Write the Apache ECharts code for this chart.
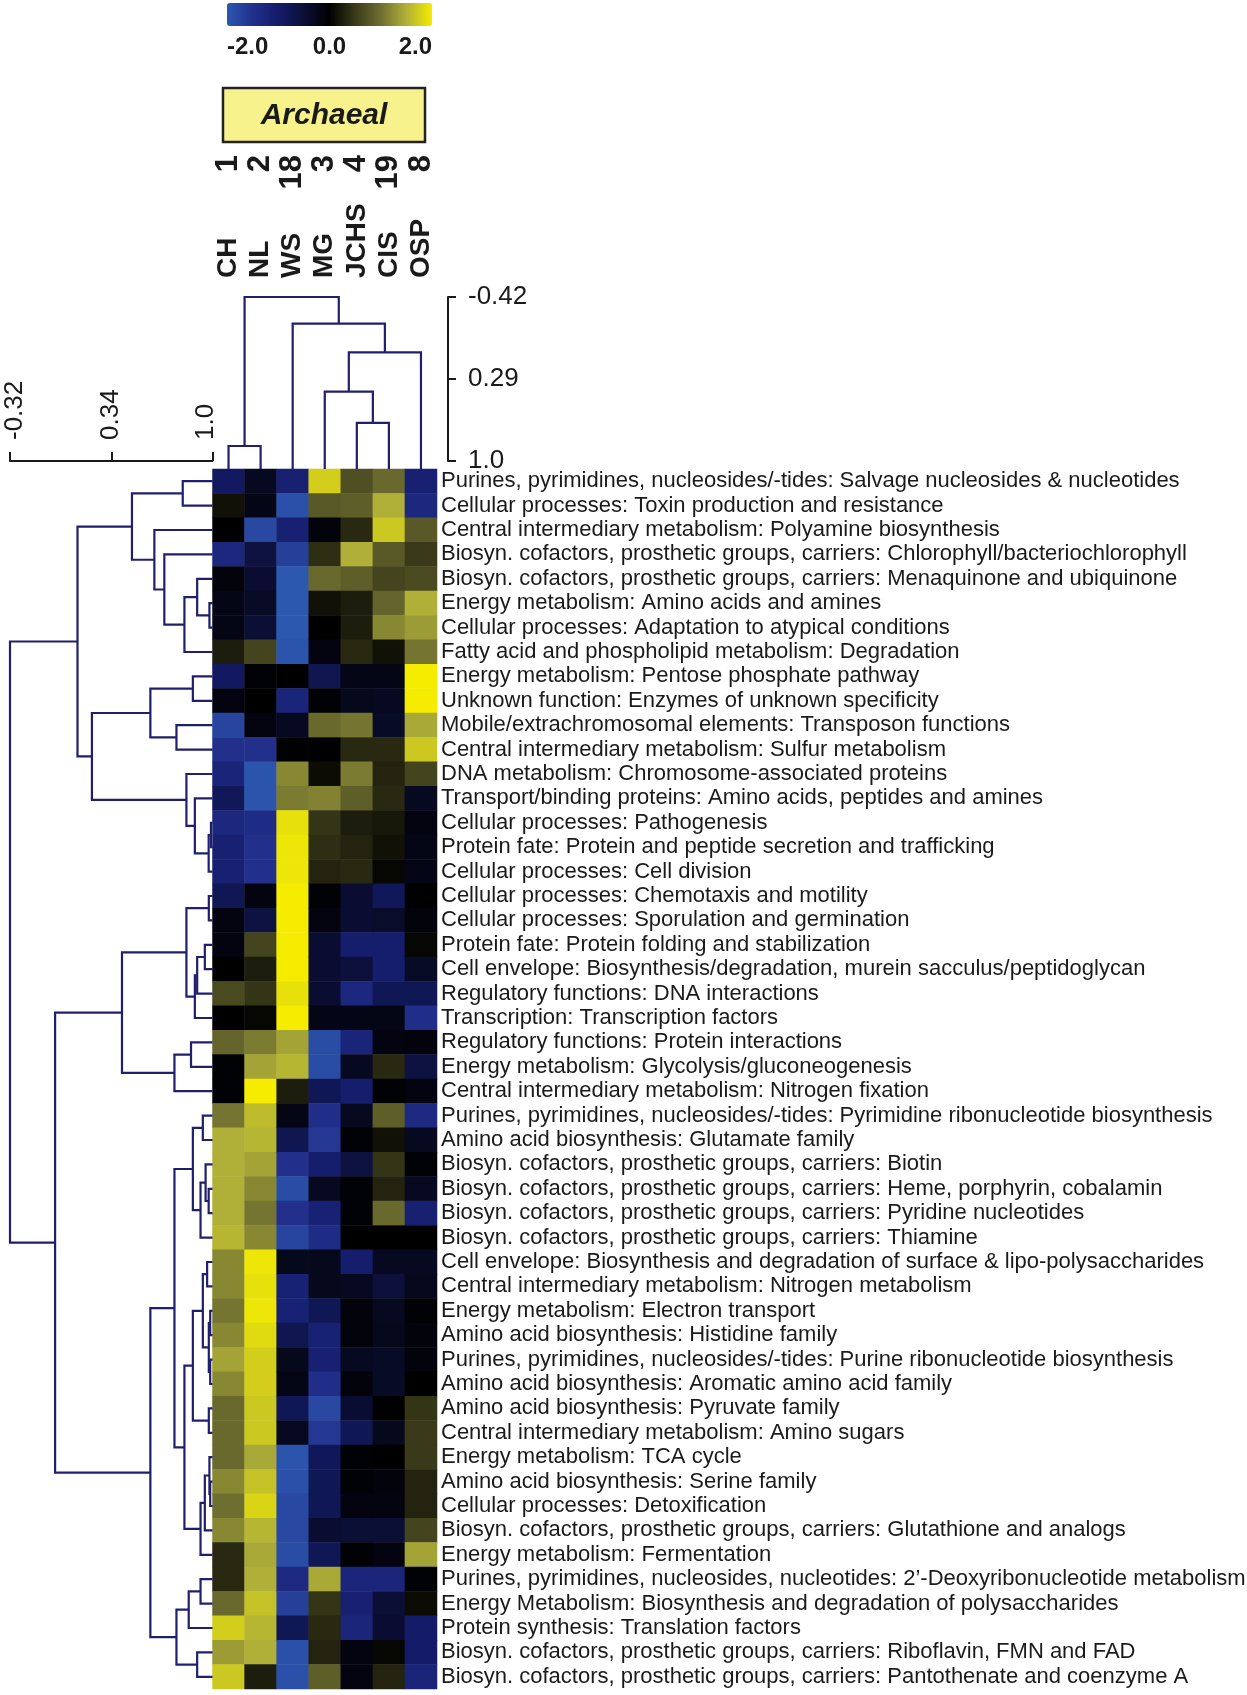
<!DOCTYPE html>
<html><head><meta charset="utf-8">
<script src="https://cdn.jsdelivr.net/npm/echarts@6/dist/echarts.min.js"></script>
<style>html,body{margin:0;padding:0;background:#fff;}#chart{width:1247px;height:1695px;}</style>
</head><body><div id="chart"></div>
<script>
// ---------------- DATA ----------------
const rowLabels = [
 'Purines, pyrimidines, nucleosides/-tides: Salvage nucleosides & nucleotides',
 'Cellular processes: Toxin production and resistance',
 'Central intermediary metabolism: Polyamine biosynthesis',
 'Biosyn. cofactors, prosthetic groups, carriers: Chlorophyll/bacteriochlorophyll',
 'Biosyn. cofactors, prosthetic groups, carriers: Menaquinone and ubiquinone',
 'Energy metabolism: Amino acids and amines',
 'Cellular processes: Adaptation to atypical conditions',
 'Fatty acid and phospholipid metabolism: Degradation',
 'Energy metabolism: Pentose phosphate pathway',
 'Unknown function: Enzymes of unknown specificity',
 'Mobile/extrachromosomal elements: Transposon functions',
 'Central intermediary metabolism: Sulfur metabolism',
 'DNA metabolism: Chromosome-associated proteins',
 'Transport/binding proteins: Amino acids, peptides and amines',
 'Cellular processes: Pathogenesis',
 'Protein fate: Protein and peptide secretion and trafficking',
 'Cellular processes: Cell division',
 'Cellular processes: Chemotaxis and motility',
 'Cellular processes: Sporulation and germination',
 'Protein fate: Protein folding and stabilization',
 'Cell envelope: Biosynthesis/degradation, murein sacculus/peptidoglycan',
 'Regulatory functions: DNA interactions',
 'Transcription: Transcription factors',
 'Regulatory functions: Protein interactions',
 'Energy metabolism: Glycolysis/gluconeogenesis',
 'Central intermediary metabolism: Nitrogen fixation',
 'Purines, pyrimidines, nucleosides/-tides: Pyrimidine ribonucleotide biosynthesis',
 'Amino acid biosynthesis: Glutamate family',
 'Biosyn. cofactors, prosthetic groups, carriers: Biotin',
 'Biosyn. cofactors, prosthetic groups, carriers: Heme, porphyrin, cobalamin',
 'Biosyn. cofactors, prosthetic groups, carriers: Pyridine nucleotides',
 'Biosyn. cofactors, prosthetic groups, carriers: Thiamine',
 'Cell envelope: Biosynthesis and degradation of surface & lipo-polysaccharides',
 'Central intermediary metabolism: Nitrogen metabolism',
 'Energy metabolism: Electron transport',
 'Amino acid biosynthesis: Histidine family',
 'Purines, pyrimidines, nucleosides/-tides: Purine ribonucleotide biosynthesis',
 'Amino acid biosynthesis: Aromatic amino acid family',
 'Amino acid biosynthesis: Pyruvate family',
 'Central intermediary metabolism: Amino sugars',
 'Energy metabolism: TCA cycle',
 'Amino acid biosynthesis: Serine family',
 'Cellular processes: Detoxification',
 'Biosyn. cofactors, prosthetic groups, carriers: Glutathione and analogs',
 'Energy metabolism: Fermentation',
 'Purines, pyrimidines, nucleosides, nucleotides: 2\u2019-Deoxyribonucleotide metabolism',
 'Energy Metabolism: Biosynthesis and degradation of polysaccharides',
 'Protein synthesis: Translation factors',
 'Biosyn. cofactors, prosthetic groups, carriers: Riboflavin, FMN and FAD',
 'Biosyn. cofactors, prosthetic groups, carriers: Pantothenate and coenzyme A'
];
const colNames = ['CH', 'NL', 'WS', 'MG', 'JCHS', 'CIS', 'OSP'];
const colNumbers = ['1', '2', '18', '3', '4', '19', '8'];
const groupLabel = 'Archaeal';

const valCH = [-0.9,0.15,0.0,-1.3,-0.1,-0.2,-0.2,0.25,-0.9,-0.15,-1.75,-1.5,-1.2,-0.85,-1.3,-1.1,-1.1,-0.8,-0.15,-0.15,0.0,0.65,0.0,0.9,-0.05,-0.05,1.05,1.5,1.5,1.5,1.5,1.55,1.2,1.2,1.05,1.2,1.4,1.2,0.95,0.95,0.95,1.2,1.0,1.2,0.35,0.35,0.95,1.75,1.35,1.7];
const valNL = [-0.3,-0.2,-1.8,-0.6,-0.45,-0.35,-0.5,0.6,-0.05,0.0,-0.15,-1.5,-1.95,-1.95,-1.4,-1.5,-1.5,-0.15,-0.6,0.6,0.25,0.45,0.05,1.1,1.4,2.0,1.6,1.55,1.4,1.2,1.05,1.2,1.95,1.9,1.95,1.85,1.75,1.75,1.7,1.7,1.45,1.65,1.8,1.55,1.45,1.5,1.65,1.55,1.5,0.25];
const valWS = [-1.1,-1.9,-1.1,-1.7,-2.0,-2.0,-2.0,-1.95,0.0,-1.2,-0.3,0.0,1.2,1.1,1.9,1.95,1.95,2.0,2.0,2.0,2.0,1.9,2.0,1.4,1.55,0.25,-0.2,-0.75,-1.5,-1.85,-1.5,-1.75,-0.25,-1.15,-1.15,-0.75,-0.25,-0.2,-0.8,-0.3,-1.95,-1.9,-1.8,-1.8,-1.85,-1.35,-1.7,-0.8,-1.9,-1.9];
const valMG = [1.75,0.8,-0.1,0.4,0.95,0.15,0.0,-0.15,-0.75,-0.05,0.95,0.0,0.1,1.15,0.45,0.4,0.3,-0.05,-0.15,-0.45,-0.45,-0.45,-0.2,-1.85,-1.85,-0.8,-1.45,-1.6,-1.05,-0.3,-1.15,-1.4,-0.25,-0.25,-0.8,-1.15,-1.1,-1.45,-1.8,-1.6,-0.85,-0.8,-0.8,-0.45,-0.8,1.45,0.45,0.35,0.3,0.85];
const valJCHS = [0.7,0.85,0.35,1.5,0.85,0.25,0.25,0.35,-0.2,-0.25,1.05,0.35,1.1,0.85,0.25,0.3,0.35,-0.45,-0.45,-1.05,-0.55,-1.3,-0.2,-1.2,-0.3,-1.05,-0.3,-0.05,-0.6,-0.05,-0.05,0.0,-1.05,-0.3,-0.1,-0.1,-0.3,-0.1,-0.45,-0.8,-0.05,-0.05,-0.15,-0.5,-0.05,-1.25,-1.1,-1.25,-0.15,-0.15];
const valCIS = [0.95,1.5,1.7,0.8,0.6,0.9,1.2,0.15,-0.2,-0.3,-0.35,0.35,0.3,0.35,0.2,0.15,0.05,-0.85,-0.4,-1.05,-1.05,-0.8,-0.2,-0.15,0.35,-0.05,0.85,0.15,0.45,0.3,0.95,0.0,-0.3,-0.55,-0.3,-0.25,-0.35,-0.35,0.0,-0.25,0.0,-0.1,-0.15,-0.5,-0.15,-1.25,-0.5,-0.45,0.05,0.3];
const valOSP = [-1.1,-1.3,0.8,0.5,0.65,1.5,1.35,1.05,2.0,2.0,1.45,1.7,0.6,-0.3,-0.15,-0.2,-0.2,0.0,-0.1,0.05,-0.35,-0.8,-1.45,-0.1,-0.6,-0.15,-1.35,-0.3,-0.05,-0.3,-1.1,0.0,-0.3,-0.25,-0.05,-0.1,-0.1,0.0,0.45,0.5,0.5,0.3,0.3,0.6,1.4,-0.05,0.1,-1.0,-1.0,-1.2];

const colorTicks = [-2, 0, 2];
const colScaleTicks = [-0.42, 0.29, 1.0];
const rowScaleTicks = [-0.32, 0.34, 1.0];

// Column tree: [left, right, mergeHeight]; leaves = column index (0-based)
const colTree = [[0, 1, 0.87], [2, [[3, [4, 5, 0.67], 0.40], 6, 0.06], -0.19], -0.42];
// Row tree: leaves = row number (1-based)
const rowTree = [
  [
    [[1, 2, 0.806], [3, [4, [[5, [6, 7, 0.98], 0.90], 8, 0.817], 0.686], 0.621], 0.475],
    [[[9, 10, 0.872], [11, 12, 0.765], 0.595], [13, [14, [[15, 16, 0.99], 17, 0.975], 0.885], 0.83], 0.214],
    0.12
  ],
  [
    [[[18, 19, 0.976], [[[20, 21, 0.95], 22, 0.90], 23, 0.885], 0.83], [[24, 25, 0.86], 26, 0.752], 0.41],
    [
      [
        [[27, 28, 0.937], [[29, [30, 31, 0.975], 0.955], 32, 0.922], 0.872],
        [[[[33, 34, 0.965], [[35, 36, 0.985], [37, 38, 0.985], 0.976], 0.937], [39, 40, 0.976], 0.872],
         [[[41, [42, 43, 0.985], 0.98], 44, 0.95], 45, 0.922], 0.817],
        0.752
      ],
      [[[46, 47, 0.922], 48, 0.845], [49, 50, 0.9], 0.765],
      0.595
    ],
    -0.026
  ],
  -0.32
];

// ---------------- LAYOUT ----------------
const FONT = 'Liberation Sans, Arial, Helvetica, sans-serif';
const HM = { left: 212.5, top: 469, width: 224.5, height: 1220 };
const TD = { top: 297, scaleBottom: 461 };
const LINE = '#1f1f6e';
const TXT = '#1a1a1a';
const cmap = ['#2c58b0', '#22308c', '#141c6a', '#0b0f36', '#000000', '#3a3a1a', '#6e6e30', '#b0b038', '#f5ec00'];

const cols = [valCH, valNL, valWS, valMG, valJCHS, valCIS, valOSP];
const heatData = [];
cols.forEach((arr, c) => arr.forEach((v, r) => heatData.push([c, r, v])));

function buildPolys(tree, leafOffset, leafH) {
  const polys = [];
  (function walk(node) {
    if (typeof node === 'number') return { pos: node - leafOffset, h: leafH };
    const a = walk(node[0]), b = walk(node[1]), v = node[2];
    polys.push([a.h, a.pos, v, a.pos, v, b.pos, b.h, b.pos]);
    return { pos: (a.pos + b.pos) / 2, h: v };
  })(tree);
  return polys;
}
const topScaleH = TD.scaleBottom - TD.top;
const topGridH = HM.top - TD.top;
const topMax = colScaleTicks[0] + (colScaleTicks[2] - colScaleTicks[0]) * topGridH / topScaleH;
const rowPolys = buildPolys(rowTree, 1, 1.0);
const colPolys = buildPolys(colTree, 0, topMax);

function makeRender(swap) {
  return function (params, api) {
    const pts = [];
    for (let k = 0; k < 4; k++) {
      const h = api.value(2 * k), p = api.value(2 * k + 1);
      pts.push(api.coord(swap ? [p, h] : [h, p]));
    }
    return { type: 'polyline', shape: { points: pts }, style: { fill: 'none', stroke: LINE, lineWidth: 2.2 } };
  };
}
const fmt = v => (Math.abs(v - 1) < 1e-9 ? '1.0' : String(v));
const noSplit = { show: false };

const chart = echarts.init(document.getElementById('chart'), null, { renderer: 'canvas' });
chart.setOption({
  animation: false,
  backgroundColor: '#fff',
  grid: [
    { left: HM.left, top: HM.top, width: HM.width, height: HM.height, outerBoundsMode: 'none' },
    { left: 10, top: HM.top, width: HM.left - 10, height: HM.height, outerBoundsMode: 'none' },
    { left: HM.left, top: TD.top, width: HM.width, height: topGridH, outerBoundsMode: 'none' },
    { left: 447, top: TD.top, width: 1, height: topScaleH, outerBoundsMode: 'none' },
    { left: 227, top: 3, width: 205, height: 23, outerBoundsMode: 'none' }
  ],
  xAxis: [
    { gridIndex: 0, type: 'category', data: colNames, position: 'top',
      axisLine: { show: false }, axisTick: { show: false }, axisLabel: { show: false } },
    { gridIndex: 1, type: 'value', min: rowScaleTicks[0], max: rowScaleTicks[2], position: 'top', offset: 8,
      splitLine: noSplit,
      axisLine: { show: true, onZero: false, lineStyle: { color: TXT, width: 2 } },
      axisTick: { show: true, customValues: rowScaleTicks, length: 9, lineStyle: { color: TXT, width: 2 } },
      axisLabel: { show: false } },
    { gridIndex: 2, type: 'value', min: -0.5, max: colNames.length - 0.5, show: false },
    { gridIndex: 3, type: 'value', min: 0, max: 1, show: false },
    { gridIndex: 4, type: 'value', min: colorTicks[0], max: colorTicks[2], interval: 2, position: 'bottom',
      splitLine: noSplit, axisLine: { show: false, onZero: false }, axisTick: { show: false },
      axisLabel: { formatter: v => v.toFixed(1), margin: 9, fontSize: 24, fontWeight: 'bold', color: TXT, fontFamily: FONT,
        alignMinLabel: 'left', alignMaxLabel: 'right' } }
  ],
  yAxis: [
    { gridIndex: 0, type: 'category', data: rowLabels, inverse: true, position: 'right',
      axisLine: { show: false }, axisTick: { show: false },
      axisLabel: { interval: 0, margin: 4, fontSize: 22, color: TXT, fontFamily: FONT } },
    { gridIndex: 1, type: 'value', min: -0.5, max: rowLabels.length - 0.5, inverse: true, show: false },
    { gridIndex: 2, type: 'value', min: colScaleTicks[0], max: topMax, inverse: true, show: false },
    { gridIndex: 3, type: 'value', min: colScaleTicks[0], max: colScaleTicks[2], inverse: true, position: 'right',
      splitLine: noSplit,
      axisLine: { show: true, onZero: false, lineStyle: { color: TXT, width: 2 } },
      axisTick: { show: true, customValues: colScaleTicks, length: 8, lineStyle: { color: TXT, width: 2 } },
      axisLabel: { customValues: colScaleTicks, formatter: fmt, margin: 20, fontSize: 26, color: TXT, fontFamily: FONT } },
    { gridIndex: 4, type: 'value', min: 0, max: 1, show: false }
  ],
  visualMap: {
    type: 'continuous', seriesIndex: 0, min: colorTicks[0], max: colorTicks[2], orient: 'horizontal',
    left: 227, top: 3, itemWidth: 23, itemHeight: 205, padding: 0, calculable: false, hoverLink: false,
    inRange: { color: cmap }
  },
  series: [
    { type: 'heatmap', xAxisIndex: 0, yAxisIndex: 0, data: heatData, progressive: 0, emphasis: { disabled: true } },
    { type: 'custom', coordinateSystem: 'cartesian2d', xAxisIndex: 1, yAxisIndex: 1, data: rowPolys,
      renderItem: makeRender(false), silent: true },
    { type: 'custom', coordinateSystem: 'cartesian2d', xAxisIndex: 2, yAxisIndex: 2, data: colPolys,
      renderItem: makeRender(true), silent: true }
  ]
});

// Rotated labels (reading bottom-to-top), placed through the axes' own scales
const graphics = [
  { type: 'rect', shape: { x: 223, y: 88, width: 202, height: 54 },
    style: { fill: '#f8f28c', stroke: '#222', lineWidth: 2.5 } },
  { type: 'text', x: 324, y: 116,
    style: { text: groupLabel, fill: TXT, font: 'italic bold 30px ' + FONT, align: 'center', verticalAlign: 'middle' } }
];
colNames.forEach((name, i) => {
  const x = chart.convertToPixel({ xAxisIndex: 0 }, i);
  graphics.push({ type: 'text', x: x, y: 278, rotation: Math.PI / 2,
    style: { text: name, fill: TXT, font: 'bold 28px ' + FONT, align: 'left', verticalAlign: 'middle' } });
  graphics.push({ type: 'text', x: x, y: 155, rotation: Math.PI / 2,
    style: { text: colNumbers[i], fill: TXT, font: 'bold 31px ' + FONT, align: 'right', verticalAlign: 'middle' } });
});
const edgeNudge = [5, 0, -7];
rowScaleTicks.forEach((v, i) => {
  const x = chart.convertToPixel({ xAxisIndex: 1 }, v) + edgeNudge[i];
  graphics.push({ type: 'text', x: x, y: 440, rotation: Math.PI / 2,
    style: { text: fmt(v), fill: TXT, font: '26px ' + FONT, align: 'left', verticalAlign: 'middle' } });
});
chart.setOption({ graphic: graphics });
</script></body></html>
